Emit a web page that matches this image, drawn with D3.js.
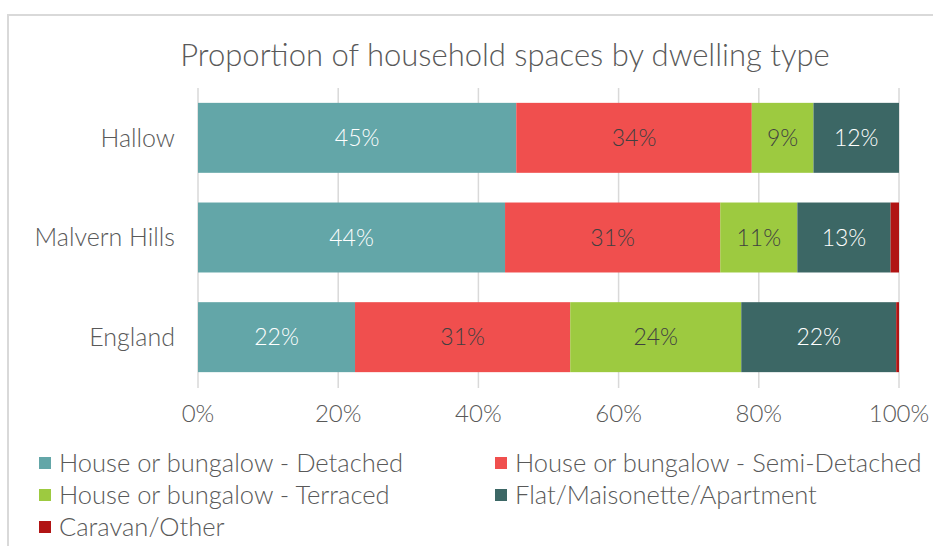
<!DOCTYPE html>
<html>
<head>
<meta charset="utf-8">
<script src="https://cdn.jsdelivr.net/npm/d3@7"></script>
<style>
  body { margin: 0; background: #fff; }
  svg text { font-family: Lato, "Open Sans", sans-serif; font-weight: 300; }
</style>
</head>
<body>
<div id="chart"></div>
<script>
const width = 933;
const height = 546;

// data (percent of household spaces)
const areas = ["Hallow", "Malvern Hills", "England"];
const types = [
  "House or bungalow - Detached",
  "House or bungalow - Semi-Detached",
  "House or bungalow - Terraced",
  "Flat/Maisonette/Apartment",
  "Caravan/Other"
];
const detached = [45.4, 43.8, 22.4];
const semiDetached = [33.6, 30.7, 30.7];
const terraced = [8.8, 11.0, 24.4];
const flats = [12.2, 13.3, 22.1];
const caravan = [0.0, 1.2, 0.4];
const xTicks = [0, 20, 40, 60, 80, 100];

const colors = ["#63a6a8", "#f04f4e", "#9dca40", "#3c6765", "#b11414"];
const labelColors = ["#ffffff", "#404040", "#404040", "#ffffff", null];

const seriesValues = [detached, semiDetached, terraced, flats, caravan];
const rows = areas.map((a, i) => {
  const r = { area: a };
  types.forEach((t, j) => (r[t] = seriesValues[j][i]));
  return r;
});

const svg = d3
  .select("#chart")
  .append("svg")
  .attr("width", width)
  .attr("height", height);

// outer chart frame
svg
  .append("rect")
  .attr("x", 8)
  .attr("y", 15)
  .attr("width", 1000)
  .attr("height", 600)
  .attr("fill", "none")
  .attr("stroke", "#d9d9d9")
  .attr("stroke-width", 2);

svg
  .append("text")
  .attr("x", 505)
  .attr("y", 66)
  .attr("text-anchor", "middle")
  .style("font-size", "31px")
  .style("fill", "#595959")
  .text("Proportion of household spaces by dwelling type");

const x = d3.scaleLinear().domain([0, 100]).range([198, 899]);
const y = d3
  .scaleBand()
  .domain(areas)
  .range([88, 387])
  .paddingInner(0.298)
  .paddingOuter(0.149);

// gridlines
svg
  .append("g")
  .selectAll("line")
  .data(xTicks)
  .enter()
  .append("line")
  .attr("x1", (d) => x(d))
  .attr("x2", (d) => x(d))
  .attr("y1", 88)
  .attr("y2", 388)
  .attr("stroke", "#d9d9d9")
  .attr("stroke-width", 1.5);

const stack = d3.stack().keys(types)(rows);

const layers = svg
  .append("g")
  .selectAll("g")
  .data(stack)
  .enter()
  .append("g")
  .attr("fill", (d, i) => colors[i]);

layers
  .selectAll("rect")
  .data((d) => d)
  .enter()
  .append("rect")
  .attr("x", (d) => x(d[0]))
  .attr("y", (d) => y(d.data.area))
  .attr("width", (d) => x(d[1]) - x(d[0]))
  .attr("height", y.bandwidth());

// data labels
layers.each(function (layer, i) {
  if (!labelColors[i]) return;
  d3.select(this)
    .selectAll("text")
    .data(layer)
    .enter()
    .append("text")
    .attr("x", (d) => (x(d[0]) + x(d[1])) / 2)
    .attr("y", (d) => y(d.data.area) + y.bandwidth() / 2)
    .attr("dy", "0.35em")
    .attr("text-anchor", "middle")
    .style("font-size", "23px")
    .style("fill", labelColors[i])
    .text((d) => Math.round(d[1] - d[0]) + "%");
});

// category axis
svg
  .append("g")
  .selectAll("text")
  .data(areas)
  .enter()
  .append("text")
  .attr("x", 175)
  .attr("y", (d) => y(d) + y.bandwidth() / 2)
  .attr("dy", "0.35em")
  .attr("text-anchor", "end")
  .style("font-size", "25px")
  .style("fill", "#595959")
  .text((d) => d);

// value axis labels
svg
  .append("g")
  .selectAll("text")
  .data(xTicks)
  .enter()
  .append("text")
  .attr("x", (d) => x(d))
  .attr("y", 414)
  .attr("dy", "0.35em")
  .attr("text-anchor", "middle")
  .style("font-size", "24px")
  .style("fill", "#595959")
  .text((d) => d + "%");

// legend
const legendPos = [
  [39, 463], [495, 463],
  [39, 495], [495, 495],
  [39, 527]
];
const legend = svg
  .append("g")
  .selectAll("g")
  .data(types)
  .enter()
  .append("g")
  .attr("transform", (d, i) => `translate(${legendPos[i][0]}, ${legendPos[i][1]})`);

legend
  .append("rect")
  .attr("x", 0)
  .attr("y", -6)
  .attr("width", 12)
  .attr("height", 12)
  .attr("fill", (d, i) => colors[i]);

legend
  .append("text")
  .attr("x", 20)
  .attr("dy", "0.35em")
  .style("font-size", "25.5px")
  .style("fill", "#595959")
  .text((d) => d);
</script>
</body>
</html>
